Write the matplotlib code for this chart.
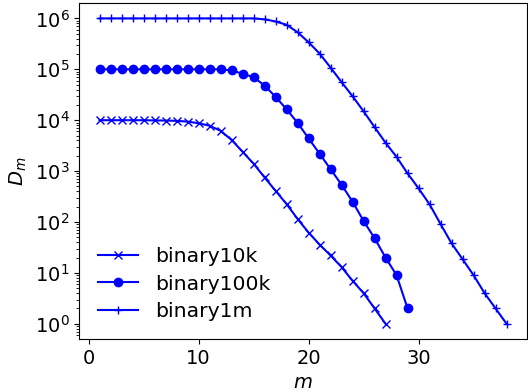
import matplotlib
matplotlib.use("Agg")
import matplotlib.pyplot as plt

plt.rcParams["font.size"] = 14

m_10k = list(range(1, 28))
d_10k = [10000, 10000, 10000, 10000, 10000, 9900, 9850, 9700, 9400, 8700,
         7800, 6200, 4100, 2400, 1400, 750, 410, 225, 115, 62,
         36, 22, 13, 7, 4, 2, 1]

m_100k = list(range(1, 30))
d_100k = [100000] * 12 + [95000, 82000, 70000, 48000, 28800, 16400, 8900,
                          4400, 2200, 1090, 540, 250, 105, 48, 20, 9, 2]

m_1m = list(range(1, 39))
d_1m = [1000000] * 15 + [960000, 870000, 750000, 535000, 340000, 204000,
                         108000, 56000, 29500, 15000, 7300, 3600, 1900, 900,
                         458, 222, 91, 38, 18.6, 9, 4, 2, 1]

fig = plt.figure(figsize=(5.28, 3.92), dpi=100)
ax = fig.add_axes([0.15, 0.135, 0.848, 0.857])

ax.plot(m_10k, d_10k, "b-x", label="binary10k")
ax.plot(m_100k, d_100k, "b-o", label="binary100k")
ax.plot(m_1m, d_1m, "b-+", label="binary1m")
ax.set_yscale("log")
ax.set_xlabel("$m$")
ax.set_ylabel("$D_m$")
ax.legend(loc="lower left", frameon=False, fontsize=14.7, labelspacing=0.4)

fig.savefig("out.png", dpi=100)
